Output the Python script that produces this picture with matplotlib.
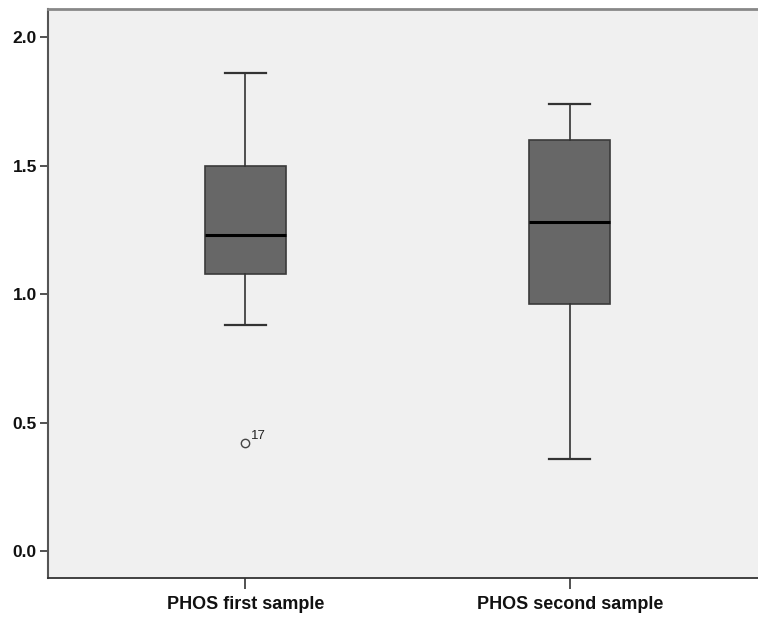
import matplotlib
matplotlib.use("Agg")
import matplotlib.pyplot as plt

# box summaries per sample (whiskers, quartiles, median)
labels = ["PHOS first sample", "PHOS second sample"]
whislo = [0.88, 0.36]
q1 = [1.08, 0.96]
med = [1.23, 1.28]
q3 = [1.50, 1.60]
whishi = [1.86, 1.74]
fliers = [[0.42], []]
flier_ids = [["17"], []]

yticks = [0.0, 0.5, 1.0, 1.5, 2.0]

plt.rcParams['font.family'] = ['Liberation Sans', 'DejaVu Sans']

fig = plt.figure(figsize=(7.58, 6.17), dpi=100)
ax = fig.add_axes([48 / 758, 1 - 578 / 617, 1 - 48 / 758 + 0.002, (578 - 9) / 617])
ax.set_facecolor("#f0f0f0")

stats = []
for i in range(len(labels)):
    stats.append(dict(label=labels[i], whislo=whislo[i], q1=q1[i], med=med[i],
                      q3=q3[i], whishi=whishi[i], fliers=fliers[i]))

positions = list(range(1, len(labels) + 1))
ax.bxp(stats, positions=positions, widths=0.25, patch_artist=True,
       boxprops=dict(facecolor="#676767", edgecolor="#3a3a3a", linewidth=1.2),
       medianprops=dict(color="black", linewidth=2.2),
       whiskerprops=dict(color="#333333", linewidth=1.2),
       capprops=dict(color="#333333", linewidth=1.6),
       capwidths=0.125,
       flierprops=dict(marker="o", markersize=6, markerfacecolor="none",
                       markeredgecolor="#444444", markeredgewidth=1.0))

# case numbers next to outliers
for pos, vals, ids in zip(positions, fliers, flier_ids):
    for v, t in zip(vals, ids):
        ax.annotate(t, (pos, v), xytext=(4, 3), textcoords="offset points",
                    fontsize=9.5, color="#222222")

ax.set_xlim(0.392, 2.585)
ax.set_ylim(-0.105, 2.11)
ax.set_yticks(yticks)
ax.set_yticklabels([f"{t:.1f}" for t in yticks])
ax.set_xticks(positions)
ax.set_xticklabels(labels)

for lab in ax.get_yticklabels():
    lab.set_fontweight("bold")
    lab.set_fontsize(12.5)
    lab.set_color("#111111")
for lab in ax.get_xticklabels():
    lab.set_fontweight("bold")
    lab.set_fontsize(13)
    lab.set_color("#111111")

ax.tick_params(axis="y", length=6, width=1.2, color="#333333", pad=2)
ax.tick_params(axis="x", length=8, width=1.2, color="#333333", pad=5)

ax.spines["right"].set_visible(False)
ax.spines["left"].set_color("#555555")
ax.spines["left"].set_linewidth(1.5)
ax.spines["bottom"].set_color("#333333")
ax.spines["bottom"].set_linewidth(1.3)
ax.spines["top"].set_color("#888888")
ax.spines["top"].set_linewidth(2)

fig.savefig("out.png", dpi=100)
